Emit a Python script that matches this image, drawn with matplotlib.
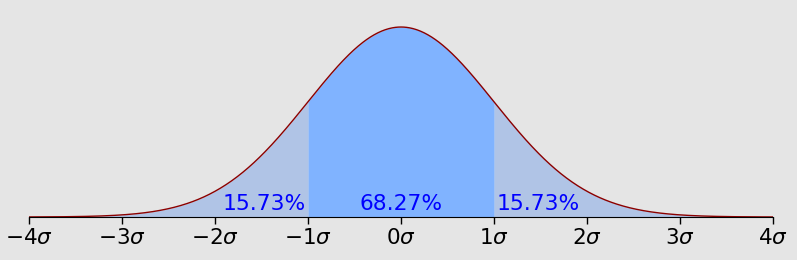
import numpy as np
import matplotlib.pyplot as plt

# tick positions (in sigma) and the area labels
ticks = [-4, -3, -2, -1, 0, 1, 2, 3, 4]
tick_labels = [r'$-4\sigma$', r'$-3\sigma$', r'$-2\sigma$', r'$-1\sigma$', r'$0\sigma$',
               r'$1\sigma$', r'$2\sigma$', r'$3\sigma$', r'$4\sigma$']
label_x = [-1.475, 0, 1.475]
label_text = ['15.73%', '68.27%', '15.73%']

x = np.linspace(-4, 4, 801)
y = np.exp(-x ** 2 / 2) / np.sqrt(2 * np.pi)

fig = plt.figure(figsize=(7.97, 2.6), dpi=100)
fig.patch.set_facecolor('#e5e5e5')
ax = fig.add_axes([29 / 797, 43 / 260, 744 / 797, 200 / 260])
ax.set_facecolor('#e5e5e5')

mid = (x >= -1) & (x <= 1)
ax.fill_between(x, y, where=x <= -1, color='#b0c4e6', linewidth=0)
ax.fill_between(x, y, where=x >= 1, color='#b0c4e6', linewidth=0)
ax.fill_between(x, y, where=mid, color='#80b3ff', linewidth=0)
ax.plot(x, y, color='#8b0000', linewidth=1)

for lx, lt in zip(label_x, label_text):
    ax.text(lx, 0.007, lt, color='blue', fontsize=15.7, ha='center', va='bottom')

ax.set_xlim(-4, 4)
ax.set_ylim(0, 0.42)
ax.set_xticks(ticks)
ax.set_xticklabels(tick_labels, fontsize=15.5)
ax.set_yticks([])
for s in ['left', 'right', 'top']:
    ax.spines[s].set_visible(False)
ax.spines['bottom'].set_clip_on(False)
ax.tick_params(axis='x', length=5, width=1, pad=3)

fig.savefig('out.png', dpi=100, facecolor=fig.get_facecolor())
